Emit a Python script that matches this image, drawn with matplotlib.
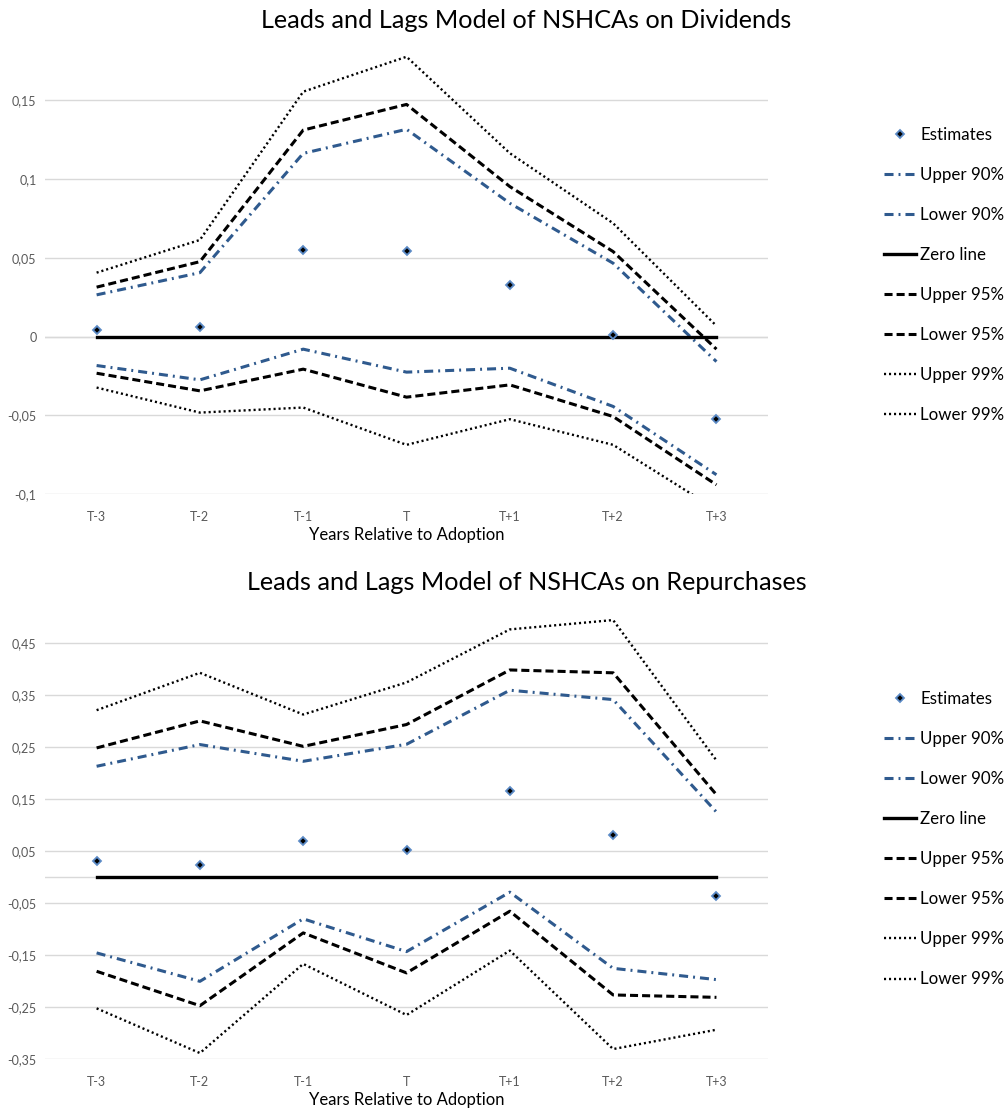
import numpy as np
import matplotlib as mpl
mpl.use('Agg')
import matplotlib.pyplot as plt

plt.rcParams['font.family'] = ['Lato', 'DejaVu Sans']
plt.rcParams['lines.scale_dashes'] = False

years = ["T-3", "T-2", "T-1", "T", "T+1", "T+2", "T+3"]
zero_line = [0, 0, 0, 0, 0, 0, 0]

# dividends panel
div_est = [0.004, 0.006, 0.0553, 0.0544, 0.0326, 0.001, -0.0523]
div_up90 = [0.0265, 0.0406, 0.1164, 0.1317, 0.0847, 0.0466, -0.0159]
div_lo90 = [-0.0184, -0.0275, -0.008, -0.0226, -0.0201, -0.0444, -0.0878]
div_up95 = [0.0314, 0.0476, 0.1312, 0.1475, 0.0953, 0.054, -0.008]
div_lo95 = [-0.0233, -0.0345, -0.0207, -0.0385, -0.0307, -0.0508, -0.0942]
div_up99 = [0.0406, 0.0614, 0.1556, 0.1778, 0.1165, 0.072, 0.0068]
div_lo99 = [-0.0324, -0.0483, -0.0451, -0.0688, -0.0525, -0.0688, -0.11]
div_ticks = [-0.1, -0.05, 0, 0.05, 0.1, 0.15]
div_labels = ["-0,1", "-0,05", "0", "0,05", "0,1", "0,15"]

# repurchases panel
rep_est = [0.0306, 0.0242, 0.0698, 0.0518, 0.1655, 0.0807, -0.0355]
rep_up90 = [0.2137, 0.2555, 0.2233, 0.256, 0.360, 0.342, 0.1257]
rep_lo90 = [-0.1453, -0.200, -0.0798, -0.1428, -0.0285, -0.175, -0.1967]
rep_up95 = [0.249, 0.301, 0.252, 0.294, 0.399, 0.3935, 0.159]
rep_lo95 = [-0.1807, -0.2469, -0.1068, -0.1838, -0.0651, -0.2262, -0.2308]
rep_up99 = [0.3216, 0.3935, 0.3133, 0.375, 0.477, 0.495, 0.225]
rep_lo99 = [-0.252, -0.338, -0.1665, -0.2648, -0.1409, -0.3303, -0.2931]
rep_ticks = [-0.35, -0.25, -0.15, -0.05, 0.05, 0.15, 0.25, 0.35, 0.45]
rep_labels = ["-0,35", "-0,25", "-0,15", "-0,05", "0,05", "0,15", "0,25", "0,35", "0,45"]

BLUE = '#2F5A8E'
GRID = '#D9D9D9'
TXT = '#595959'


def panel(ax, est, up90, lo90, up95, lo95, up99, lo99, ticks, labels, ylim,
          leg_anchor):
    x = np.arange(len(years))
    for t in ticks:
        ax.axhline(t, color=GRID, lw=1, zorder=0)
    ax.axhline(0, color=GRID, lw=1, zorder=0)
    ax.plot(x, est, ls='none', marker='D', ms=4.5, mfc='black', mec='#5B8AC6',
            mew=1.3, label="Estimates", zorder=5)
    ax.plot(x, up90, color=BLUE, lw=2.2, dashes=(6.5, 3.6, 1.4, 3.6), label="Upper 90%")
    ax.plot(x, lo90, color=BLUE, lw=2.2, dashes=(6.5, 3.6, 1.4, 3.6), label="Lower 90%")
    ax.plot(x, zero_line, color='black', lw=2.4, label="Zero line")
    ax.plot(x, up95, color='black', lw=2.2, dashes=(5.8, 2.9), label="Upper 95%")
    ax.plot(x, lo95, color='black', lw=2.2, dashes=(5.8, 2.9), label="Lower 95%")
    ax.plot(x, up99, color='black', lw=1.7, dashes=(1.5, 2.1), label="Upper 99%")
    ax.plot(x, lo99, color='black', lw=1.7, dashes=(1.5, 2.1), label="Lower 99%")
    ax.set_xlim(-0.5, len(years) - 0.5)
    ax.set_ylim(*ylim)
    ax.set_xticks(x)
    ax.set_xticklabels(years)
    ax.set_yticks(ticks)
    ax.set_yticklabels(labels)
    ax.tick_params(length=0, colors=TXT, labelsize=9)
    ax.tick_params(axis='x', pad=12)
    ax.tick_params(axis='y', pad=6)
    for s in ax.spines.values():
        s.set_visible(False)
    ax.set_xlabel("Years Relative to Adoption", fontsize=12, labelpad=3)
    fig.legend(*ax.get_legend_handles_labels(), loc='upper left',
               bbox_to_anchor=leg_anchor, frameon=False, fontsize=12.2,
               handlelength=1.9, handletextpad=0.25, labelspacing=1.42,
               borderpad=0, borderaxespad=0)


fig = plt.figure(figsize=(10.08, 11.14), dpi=100)
ax1 = fig.add_axes([0.0446, 0.5566, 0.7174, 0.4097])
ax2 = fig.add_axes([0.0446, 0.0491, 0.7174, 0.4013])

panel(ax1, div_est, div_up90, div_lo90, div_up95, div_lo95, div_up99, div_lo99,
      div_ticks, div_labels, (-0.1, 0.19), (0.877, 0.886))
panel(ax2, rep_est, rep_up90, rep_lo90, rep_up95, rep_lo95, rep_up99, rep_lo99,
      rep_ticks, rep_labels, (-0.35, 0.51), (0.877, 0.3797))

fig.text(0.522, 0.982, "Leads and Lags Model of NSHCAs on Dividends",
         ha='center', va='center', fontsize=18.2)
fig.text(0.523, 0.4767, "Leads and Lags Model of NSHCAs on Repurchases",
         ha='center', va='center', fontsize=18.2)

fig.savefig("out.png", dpi=100)
